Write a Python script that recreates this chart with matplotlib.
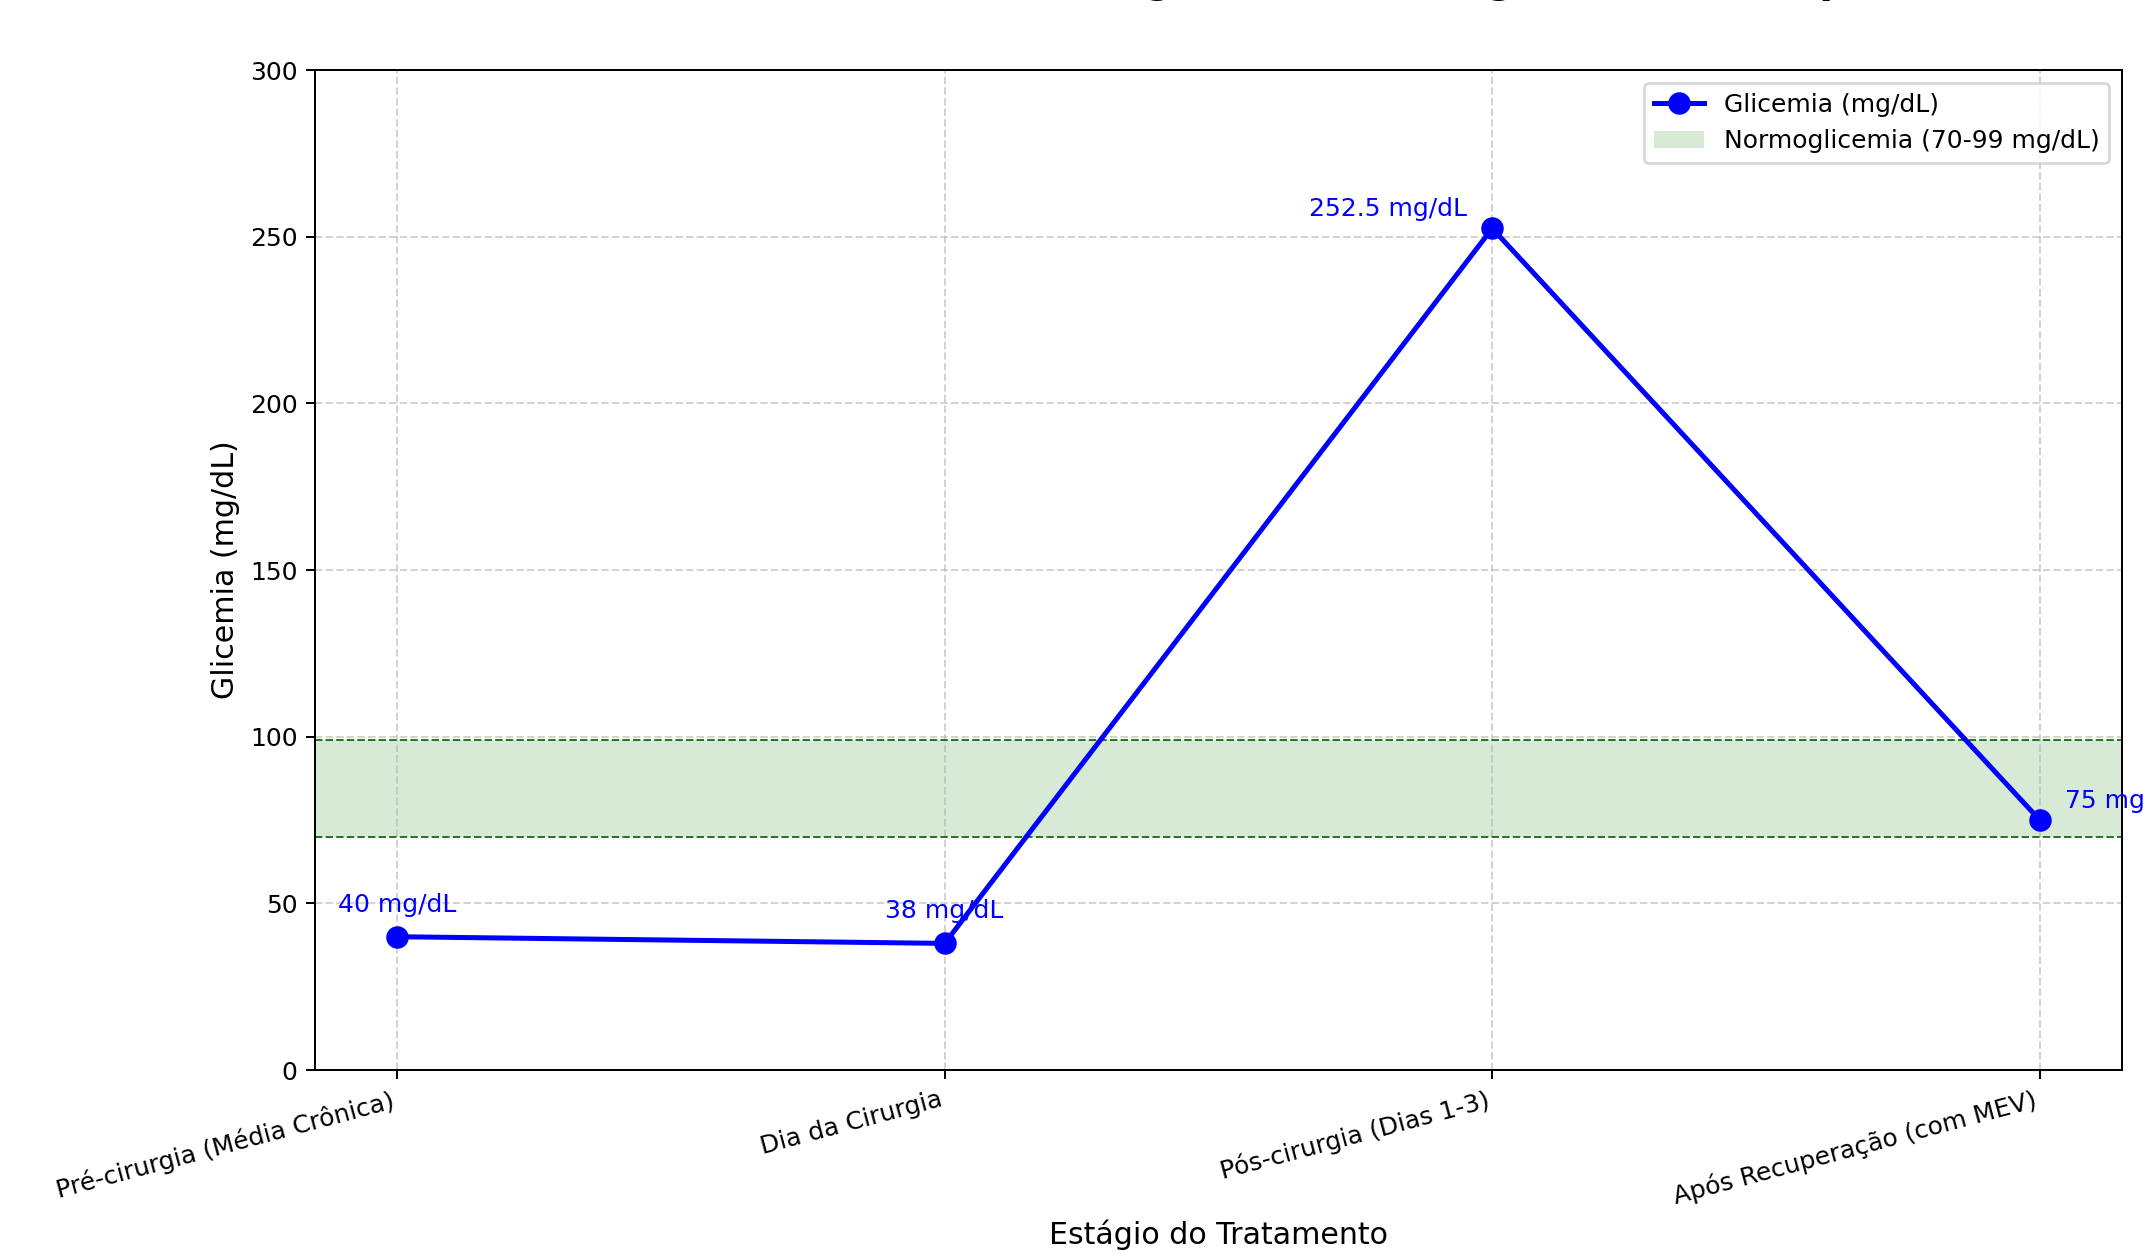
import matplotlib
matplotlib.use("Agg")
import matplotlib.pyplot as plt
from matplotlib.patches import Patch
from matplotlib.lines import Line2D

# Stages of treatment and the measured blood glucose at each one
stages = [
    "Pré-cirurgia (Média Crônica)",
    "Dia da Cirurgia",
    "Pós-cirurgia (Dias 1-3)",
    "Após Recuperação (com MEV)",
]
glicemia = [40, 38, 252.5, 75]

# Normoglycemia reference range (mg/dL)
normal_min = 70
normal_max = 99

y_ticks = [0, 50, 100, 150, 200, 250, 300]

title = "Evolução da glicemia ao longo de cada etapa"

DPI = 180
fig = plt.figure(figsize=(2144 / DPI, 1253 / DPI), dpi=DPI)
ax = fig.add_axes([0.1469, 0.1460, 0.9897 - 0.1469, 0.9441 - 0.1460])

x = list(range(len(stages)))

# Normal range band with dashed limits
ax.axhspan(normal_min, normal_max, color="green", alpha=0.16, lw=0,
           label=f"Normoglicemia ({normal_min}-{normal_max} mg/dL)")
ax.axhline(normal_min, color="darkgreen", linestyle="--", linewidth=0.8, alpha=0.85)
ax.axhline(normal_max, color="darkgreen", linestyle="--", linewidth=0.8, alpha=0.85)

# Glucose curve
ax.plot(x, glicemia, color="blue", marker="o", markersize=8, linewidth=2,
        label="Glicemia (mg/dL)", zorder=3)

# Value labels next to each point
offsets = [((0, 10), "center"), ((0, 10), "center"), ((-10, 5), "right"), ((10, 5), "left")]
for xi, v, (off, ha) in zip(x, glicemia, offsets):
    ax.annotate(f"{v:g} mg/dL", (xi, v), textcoords="offset points", xytext=off,
                ha=ha, va="baseline", color="blue", fontsize=10,
                annotation_clip=False)

ax.set_ylim(0, 300)
ax.set_yticks(y_ticks)
ax.set_xticks(x)
ax.set_xticklabels(stages, rotation=15, ha="right", fontsize=10)
ax.tick_params(axis="y", labelsize=10)
ax.set_xlabel("Estágio do Tratamento", fontsize=12)
ax.set_ylabel("Glicemia (mg/dL)", fontsize=12)
ax.grid(True, linestyle="--", alpha=0.55)

handles = [
    Line2D([0], [0], color="blue", marker="o", markersize=8, linewidth=2),
    Patch(facecolor="green", alpha=0.16),
]
labels = ["Glicemia (mg/dL)", f"Normoglicemia ({normal_min}-{normal_max} mg/dL)"]
ax.legend(handles, labels, loc="upper right", fontsize=10)

# Title sits just above the canvas top edge
fig.text(0.401, 1.0061, title, fontsize=16, fontweight="bold",
         ha="left", va="baseline")

fig.savefig("out.png", dpi=DPI)
